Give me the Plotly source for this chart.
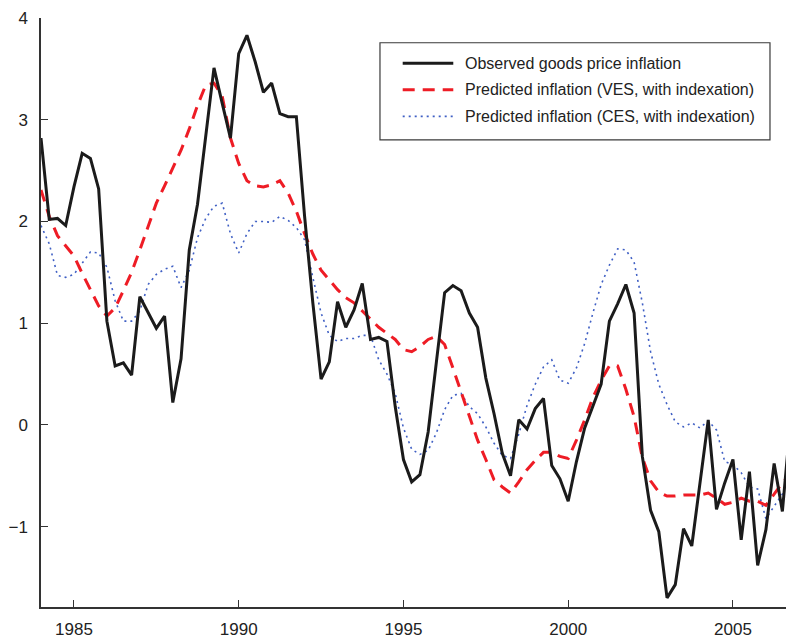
import plotly.graph_objects as go

# Quarterly observations, 1984Q1 onward
start_year = 1984.0
observed = [
    2.82, 2.02, 2.03, 1.96, 2.34, 2.67, 2.62, 2.32,
    1.02, 0.58, 0.61, 0.49, 1.26, 1.11, 0.95, 1.07,
    0.22, 0.65, 1.72, 2.17, 2.83, 3.51, 3.16, 2.82,
    3.65, 3.83, 3.57, 3.27, 3.36, 3.06, 3.03, 3.03,
    2.05, 1.20, 0.45, 0.62, 1.21, 0.96, 1.13, 1.39,
    0.84, 0.86, 0.82, 0.18, -0.34, -0.56, -0.49, -0.07,
    0.62, 1.30, 1.37, 1.32, 1.10, 0.96, 0.46, 0.11,
    -0.28, -0.50, 0.05, -0.04, 0.16, 0.26, -0.40, -0.53,
    -0.75, -0.36, -0.03, 0.18, 0.40, 1.02, 1.19, 1.38,
    1.10, -0.31, -0.84, -1.05, -1.70, -1.57, -1.02, -1.19,
    -0.55, 0.05, -0.83, -0.57, -0.34, -1.13, -0.46, -1.38,
    -1.03, -0.38, -0.85, 0.05,
]
predicted_ves = [
    2.31, 2.05, 1.86, 1.76, 1.66, 1.49, 1.33, 1.17,
    1.07, 1.15, 1.32, 1.50, 1.72, 1.95, 2.18, 2.35,
    2.53, 2.70, 2.91, 3.14, 3.34, 3.36, 3.23, 2.82,
    2.57, 2.40, 2.35, 2.34, 2.36, 2.40, 2.28, 2.10,
    1.88, 1.68, 1.52, 1.42, 1.33, 1.25, 1.20, 1.12,
    1.04, 0.96, 0.90, 0.84, 0.74, 0.72, 0.77, 0.84,
    0.87, 0.79, 0.56, 0.33, 0.10, -0.15, -0.34, -0.54,
    -0.61, -0.67, -0.56, -0.44, -0.35, -0.27, -0.27, -0.31,
    -0.33, -0.15, 0.05, 0.27, 0.44, 0.58, 0.58, 0.35,
    0.08, -0.32, -0.55, -0.66, -0.70, -0.70, -0.69, -0.69,
    -0.69, -0.67, -0.72, -0.78, -0.76, -0.72, -0.75, -0.75,
    -0.79, -0.68, -0.57, -0.48,
]
predicted_ces = [
    1.96, 1.78, 1.47, 1.45, 1.48, 1.59, 1.70, 1.69,
    1.55, 1.22, 1.02, 1.02, 1.12, 1.38, 1.48, 1.53,
    1.56, 1.35, 1.52, 1.84, 2.03, 2.15, 2.18, 1.88,
    1.69, 1.88, 2.00, 2.00, 1.99, 2.05, 2.01, 1.94,
    1.82, 1.45, 1.10, 0.88, 0.82, 0.85, 0.85, 0.88,
    0.88, 0.64, 0.50, 0.31, -0.03, -0.24, -0.29, -0.25,
    -0.08, 0.15, 0.29, 0.31, 0.18, 0.11, -0.02, -0.18,
    -0.30, -0.33, -0.09, 0.19, 0.40, 0.57, 0.64, 0.44,
    0.41, 0.56, 0.80, 1.10, 1.38, 1.57, 1.73, 1.72,
    1.60, 1.20, 0.72, 0.40, 0.20, 0.03, -0.02, 0.02,
    -0.03, 0.04, -0.05, -0.36, -0.39, -0.47, -0.61, -0.63,
    -0.92, -0.80, -0.68, -0.65,
]
series_names = [
    "Observed goods price inflation",
    "Predicted inflation (VES, with indexation)",
    "Predicted inflation (CES, with indexation)",
]
x_tick_values = [1985, 1990, 1995, 2000, 2005]
y_tick_values = [-1, 0, 1, 2, 3, 4]

dates = [start_year + 0.25 * i for i in range(len(observed))]

BLACK = "#1b1b1b"
RED = "#ee1c25"
BLUE = "#3f5fc4"
FONT = "Liberation Sans, Arial, sans-serif"

line_styles = [
    dict(color=BLACK, width=3),
    dict(color=RED, width=3, dash="12px,8px"),
    dict(color=BLUE, width=1.6, dash="2px,4px"),
]

fig = go.Figure()
# draw the smoother model lines first, the observed series on top
for values, name, style in [
    (predicted_ces, series_names[2], line_styles[2]),
    (predicted_ves, series_names[1], line_styles[1]),
    (observed, series_names[0], line_styles[0]),
]:
    fig.add_trace(go.Scatter(x=dates, y=values, mode="lines", name=name,
                             line=style, showlegend=False))

# hand-built legend box in the upper right
box = dict(x0=0.455, x1=0.9785, y0=0.793, y1=0.958)
fig.add_shape(type="rect", xref="paper", yref="paper", **box,
              line=dict(color="#3a3a3a", width=1.2), fillcolor="white", layer="above")
rows_y = [0.923, 0.878, 0.833]
for name, style, ry in zip(series_names, line_styles, rows_y):
    fig.add_shape(type="line", xref="paper", yref="paper",
                  x0=0.4855, x1=0.5534, y0=ry, y1=ry, line=style, layer="above")
    fig.add_annotation(x=0.5669, y=ry, xref="paper", yref="paper", text=name,
                       showarrow=False, xanchor="left", yanchor="middle",
                       font=dict(family=FONT, size=16, color="#222222"))

axis_common = dict(
    showgrid=False, zeroline=False, showline=True, linecolor="#333333",
    linewidth=1.5, ticks="inside", ticklen=7, tickwidth=1.3, tickcolor="#333333",
    tickfont=dict(family=FONT, size=17, color="#222222"),
)
fig.update_xaxes(range=[1984.0, 2006.61], tickvals=x_tick_values,
                 ticklabelstandoff=6, **axis_common)
fig.update_yaxes(range=[-1.79, 4.0], tickvals=y_tick_values,
                 ticklabelstandoff=8, **axis_common)

fig.update_layout(
    width=786, height=638,
    margin=dict(l=41, r=0, t=18, b=31),
    plot_bgcolor="white", paper_bgcolor="white",
    font=dict(family=FONT),
)

fig.write_html("out.html")
